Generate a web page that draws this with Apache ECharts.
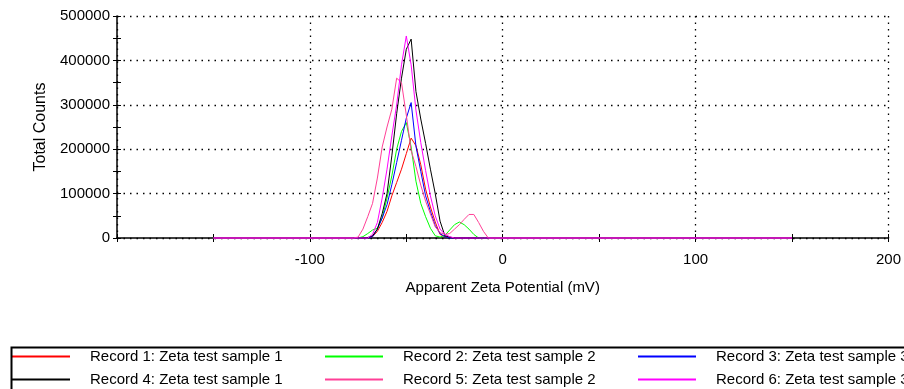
<!DOCTYPE html>
<html>
<head>
<meta charset="utf-8">
<script src="https://cdn.jsdelivr.net/npm/echarts@6.0.0/dist/echarts.min.js"></script>
<style>
  html, body { margin: 0; padding: 0; background: #fff; }
  #chart { width: 904px; height: 389px; }
</style>
</head>
<body>
<div id="chart"></div>
<script>
// zeta potential (mV), shared by all records
var zeta = [-150, -77.5, -75, -72.5, -70, -67.5, -65, -62.5, -60, -57.5, -55, -52.5, -50, -47.5, -45,
  -42.5, -40, -37.5, -35, -32.5, -30, -27.5, -25, -22.5, -20, -17.5, -15, -12.5, -10, -7.5, -5, 150];

var record1 = [0, 0, 0, 0, 0, 3000, 15000, 35000, 60000, 95000, 125000, 155000, 190000, 225000, 208000,
  165000, 110000, 70000, 36000, 8000, 3000, 1000, 0, 0, 0, 0, 0, 0, 0, 0, 0, 0];
var record2 = [0, 0, 0, 3000, 10000, 18000, 22000, 45000, 90000, 140000, 200000, 240000, 260000, 205000, 128000,
  78000, 48000, 22000, 5000, 2000, 6000, 18000, 30000, 36000, 30000, 20000, 8000, 0, 0, 0, 0, 0];
var record3 = [0, 0, 0, 0, 0, 3000, 20000, 45000, 75000, 120000, 170000, 220000, 270000, 305000, 207000,
  150000, 95000, 60000, 28000, 10000, 3000, 0, 0, 0, 0, 0, 0, 0, 0, 0, 0, 0];
var record4 = [0, 0, 0, 0, 1000, 5000, 20000, 55000, 100000, 185000, 280000, 360000, 425000, 448000, 330000,
  268000, 213000, 155000, 100000, 38000, 5000, 2000, 0, 0, 0, 0, 0, 0, 0, 0, 0, 0];
var record5 = [0, 0, 2000, 20000, 48000, 78000, 135000, 205000, 250000, 290000, 360000, 350000, 277000, 197000, 161000,
  119000, 83000, 54000, 25000, 12000, 8000, 10000, 20000, 30000, 42000, 53000, 53000, 35000, 15000, 0, 0, 0];
var record6 = [0, 0, 0, 0, 0, 8000, 35000, 90000, 155000, 230000, 300000, 390000, 455000, 390000, 288000,
  215000, 152000, 95000, 50000, 20000, 8000, 3000, 0, 0, 0, 0, 0, 0, 0, 0, 0, 0];

var recordNames = ["Record 1: Zeta test sample 1", "Record 2: Zeta test sample 2", "Record 3: Zeta test sample 3",
  "Record 4: Zeta test sample 1", "Record 5: Zeta test sample 2", "Record 6: Zeta test sample 3"];
var recordColors = ["#ff0000", "#00ff00", "#0000ff", "#000000", "#ff4097", "#ff00ff"];
var records = [record1, record2, record3, record4, record5, record6];

var font = "Liberation Sans, Arial, sans-serif";

function pairs(vals) {
  return vals.map(function (v, i) { return [zeta[i], v]; });
}

var series = records.map(function (vals, i) {
  return {
    name: recordNames[i],
    type: "line",
    data: pairs(vals),
    symbol: "none",
    clip: false,
    color: recordColors[i],
    lineStyle: { width: 1, color: recordColors[i] }
  };
});

var dotted = { show: true, lineStyle: { color: "#000", width: 1.3, type: [1.5, 5] } };

var chart = echarts.init(document.getElementById("chart"));
chart.setOption({
  animation: false,
  backgroundColor: "#fff",
  grid: { left: 117, right: 14, top: 16, bottom: 151 },
  xAxis: [
    {
      type: "value", min: -200, max: 200, interval: 100,
      name: "Apparent Zeta Potential (mV)", nameLocation: "middle", nameGap: 42,
      nameTextStyle: { color: "#000", fontSize: 15, fontFamily: font },
      axisLine: { lineStyle: { color: "#000", width: 1.5 } },
      axisTick: { show: true, length: 4, lineStyle: { color: "#000" } },
      minorTick: { show: true, splitNumber: 2, length: 4, lineStyle: { color: "#000" } },
      axisLabel: {
        color: "#000", fontSize: 15, fontFamily: font, margin: 14,
        formatter: function (v) { return v === -200 ? "" : String(v); }
      },
      splitLine: dotted
    },
    {
      type: "value", min: -200, max: 200, interval: 50, position: "bottom",
      axisLine: { show: false },
      axisTick: { show: true, inside: true, length: 4, lineStyle: { color: "#000" } },
      axisLabel: { show: false },
      splitLine: { show: false }
    }
  ],
  yAxis: [
    {
      type: "value", min: 0, max: 500000, interval: 100000,
      name: "Total Counts", nameLocation: "middle", nameGap: 68,
      nameTextStyle: { color: "#000", fontSize: 16, fontFamily: font },
      axisLine: { onZero: false, lineStyle: { color: "#000", width: 1.5 } },
      axisTick: { show: true, length: 4, lineStyle: { color: "#000" } },
      minorTick: { show: true, splitNumber: 2, length: 4, lineStyle: { color: "#000" } },
      axisLabel: {
        color: "#000", fontSize: 15, fontFamily: font, margin: 7,
        formatter: function (v) { return String(v); }
      },
      splitLine: dotted
    },
    {
      type: "value", min: 0, max: 500000, interval: 50000, position: "left",
      axisLine: { show: false, onZero: false },
      axisTick: { show: true, inside: true, length: 4, lineStyle: { color: "#000" } },
      axisLabel: { show: false },
      splitLine: { show: false }
    }
  ],
  legend: {
    left: 12, top: 349, width: 940, padding: 0,
    icon: "rect", itemWidth: 58, itemHeight: 2, itemGap: 8,
    textStyle: { color: "#000", fontSize: 15, fontFamily: font, width: 227, lineHeight: 14, padding: [0, 0, 0, 15] },
    data: recordNames
  },
  graphic: [{
    type: "rect", left: 9, top: 345, z: 10,
    shape: { width: 910, height: 60 },
    style: { fill: "none", stroke: "#000", lineWidth: 2 }
  }],
  series: series
});
</script>
</body>
</html>
